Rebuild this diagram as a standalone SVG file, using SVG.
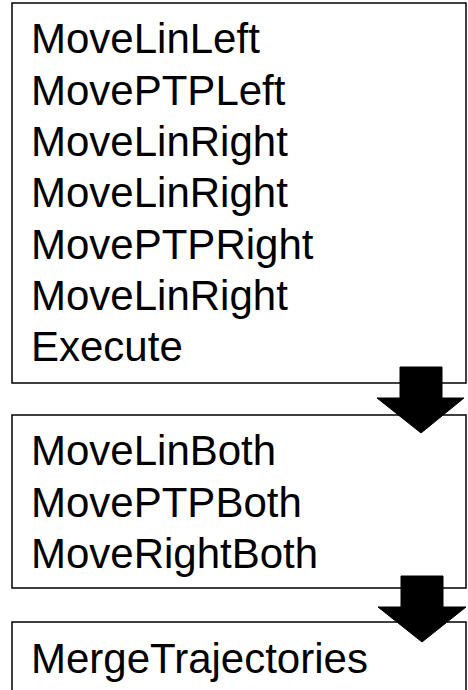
<svg xmlns="http://www.w3.org/2000/svg" width="468" height="690" viewBox="0 0 468 690">
<style>
.box{fill:#fff;stroke:#000;stroke-width:1.5}
.t{font-family:"Liberation Sans",Arial,sans-serif;font-size:42px;fill:#000}
.arr{fill:#000;stroke:#000;stroke-width:1}
</style>
<rect width="468" height="690" fill="#fff"/>
<g id="box1">
<rect class="box" x="12" y="3" width="454" height="380"/>
<text class="t" x="31" y="53">MoveLinLeft</text>
<text class="t" x="31" y="104.5">MovePTPLeft</text>
<text class="t" x="31" y="156">MoveLinRight</text>
<text class="t" x="31" y="207">MoveLinRight</text>
<text class="t" x="31" y="258.5">MovePTPRight</text>
<text class="t" x="31" y="310">MoveLinRight</text>
<text class="t" x="31" y="361">Execute</text>
</g>
<g id="box2">
<rect class="box" x="12" y="415" width="454" height="173"/>
<text class="t" x="31" y="465">MoveLinBoth</text>
<text class="t" x="31" y="517">MovePTPBoth</text>
<text class="t" x="31" y="568">MoveRightBoth</text>
</g>
<g id="box3">
<rect class="box" x="12" y="622" width="454" height="100"/>
<text class="t" x="31" y="673">MergeTrajectories</text>
</g>
<g id="connectors">
<polygon class="arr" points="400,367 442,367 442,398 464,398 421,433 377,398 400,398"/>
<polygon class="arr" points="401,576 443,576 443,607 466,607 422,642 378,607 401,607"/>
</g>
</svg>
